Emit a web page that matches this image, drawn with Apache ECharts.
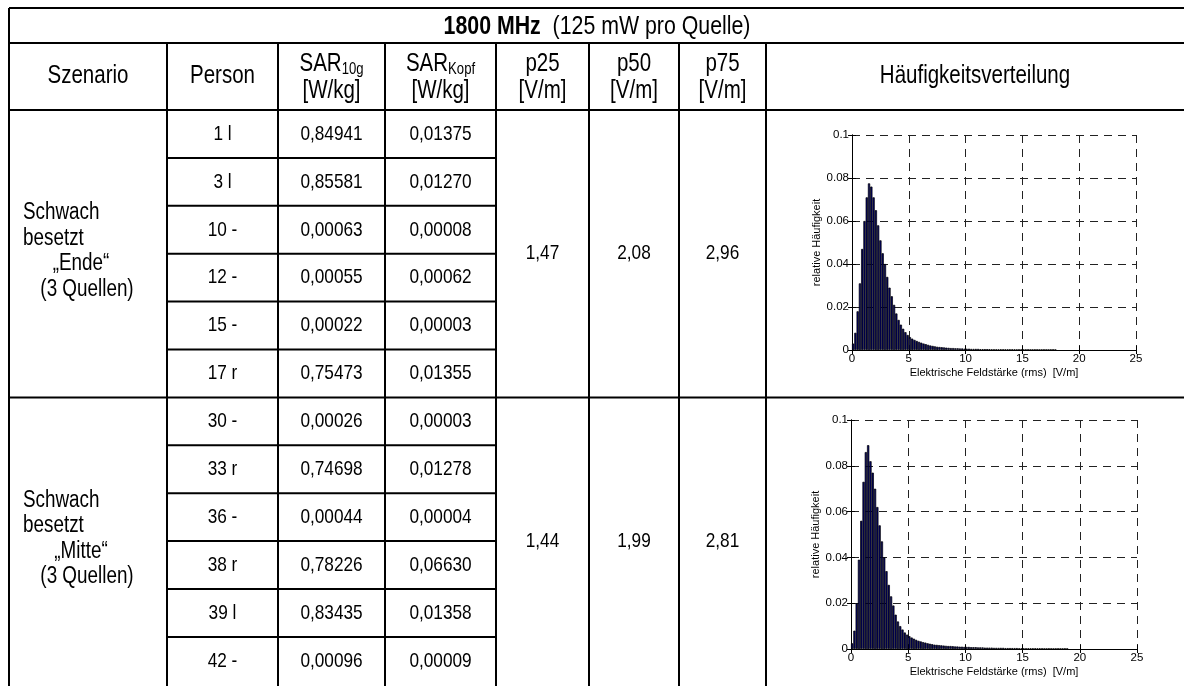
<!DOCTYPE html>
<html>
<head>
<meta charset="utf-8">
<script src="https://cdn.jsdelivr.net/npm/echarts@6/dist/echarts.min.js"></script>
<style>
  html, body { margin: 0; padding: 0; background: #fff; }
  #chart { width: 1184px; height: 686px; }
</style>
</head>
<body>
<div id="chart"></div>
<script>
// table contents
const headers = ['Szenario', 'Person', 'SAR10g', 'SARKopf', 'p25', 'p50', 'p75', 'Häufigkeitsverteilung'];
const scenarios = [
  ['Schwach', 'besetzt', '„Ende“', '(3 Quellen)'],
  ['Schwach', 'besetzt', '„Mitte“', '(3 Quellen)']
];
const persons1 = ['1 l', '3 l', '10 -', '12 -', '15 -', '17 r'];
const sar10g1 = ['0,84941', '0,85581', '0,00063', '0,00055', '0,00022', '0,75473'];
const sarKopf1 = ['0,01375', '0,01270', '0,00008', '0,00062', '0,00003', '0,01355'];
const pct1 = ['1,47', '2,08', '2,96'];
const persons2 = ['30 -', '33 r', '36 -', '38 r', '39 l', '42 -'];
const sar10g2 = ['0,00026', '0,74698', '0,00044', '0,78226', '0,83435', '0,00096'];
const sarKopf2 = ['0,00003', '0,01278', '0,00004', '0,06630', '0,01358', '0,00009'];
const pct2 = ['1,44', '1,99', '2,81'];

// histogram (bin width 0.2 V/m)
const binWidth = 0.2;
const histEnde = [
  0.003, 0.008, 0.018, 0.031, 0.047, 0.060, 0.071, 0.0775, 0.076, 0.071,
  0.065, 0.058, 0.051, 0.045, 0.040, 0.034, 0.029, 0.025, 0.021, 0.017,
  0.014, 0.0118, 0.0099, 0.0083, 0.0070, 0.0060, 0.0053, 0.0047, 0.0042, 0.0038,
  0.0034, 0.0030, 0.0027, 0.0024, 0.0021, 0.0019, 0.0017, 0.0015, 0.0014, 0.0013,
  0.0012, 0.0011, 0.0010, 0.0009, 0.0009, 0.0008, 0.0008, 0.0007, 0.0007, 0.0006,
  0.0006, 0.0006, 0.0005, 0.0005, 0.0005, 0.0005, 0.0004, 0.0004, 0.0004, 0.0004,
  0.0004, 0.0003, 0.0003, 0.0003, 0.0003, 0.0003, 0.0003, 0.0003, 0.0003, 0.0003,
  0.0003, 0.0003, 0.0002, 0.0002, 0.0002, 0.0002, 0.0002, 0.0002, 0.0002, 0.0002,
  0.0002, 0.0002, 0.0002, 0.0002, 0.0002, 0.0002, 0.0002, 0.0002, 0.0002, 0.0002
];
const histMitte = [
  0.0025, 0.008, 0.020, 0.039, 0.056, 0.073, 0.086, 0.089, 0.082, 0.077,
  0.070, 0.062, 0.054, 0.047, 0.040, 0.034, 0.028, 0.023, 0.019, 0.015,
  0.012, 0.010, 0.0085, 0.0072, 0.0063, 0.0056, 0.0050, 0.0045, 0.0040, 0.0036,
  0.0033, 0.0030, 0.0028, 0.0025, 0.0023, 0.0021, 0.0019, 0.0018, 0.0017, 0.0016,
  0.0015, 0.0014, 0.0013, 0.0013, 0.0012, 0.0011, 0.0011, 0.0010, 0.0010, 0.0009,
  0.0009, 0.0009, 0.0008, 0.0008, 0.0008, 0.0007, 0.0007, 0.0007, 0.0006, 0.0006,
  0.0006, 0.0006, 0.0005, 0.0005, 0.0005, 0.0005, 0.0005, 0.0004, 0.0004, 0.0004,
  0.0004, 0.0004, 0.0004, 0.0003, 0.0003, 0.0003, 0.0003, 0.0003, 0.0003, 0.0003,
  0.0003, 0.0003, 0.0003, 0.0003, 0.0002, 0.0002, 0.0002, 0.0002, 0.0002, 0.0002,
  0.0002, 0.0002, 0.0002, 0.0002, 0.0002
];
const xTicks = [0, 5, 10, 15, 20, 25];
const yTicks = [0, 0.02, 0.04, 0.06, 0.08, 0.1];

// layout
const colX = [9, 167, 278, 385, 496, 589, 679, 766, 1184];
const yTop = 8, yTitle = 43, yHead = 110, rowH = 47.9;
const sans = "'Liberation Sans', Arial, sans-serif";
const NARROW = 0.82; // squeeze Liberation Sans towards Arial Narrow

const chart = echarts.init(document.getElementById('chart'));
const g = [];
const line = (x1, y1, x2, y2) => g.push({
  type: 'line', shape: { x1, y1, x2, y2 }, style: { stroke: '#000', lineWidth: 2 }, silent: true
});
const text = (x, y, t, size, align, extra) => g.push({
  type: 'text', x, y, scaleX: NARROW, silent: true,
  style: Object.assign({
    text: t, fontFamily: 'Liberation Sans', fontSize: size, fill: '#000',
    align: align || 'center', verticalAlign: 'middle',
    textAlign: align || 'center', textVerticalAlign: 'middle'
  }, extra || {})
});
const mid = (i) => (colX[i] + colX[i + 1]) / 2;

// frame
line(colX[0], yTop, 1184, yTop);
line(colX[0], yTitle, 1184, yTitle);
line(colX[0], yHead, 1184, yHead);
line(colX[0], yTop, colX[0], 686);
for (let i = 1; i < 8; i++) line(colX[i], yTitle, colX[i], 686);

// title
text(597, (yTop + yTitle) / 2 + 1, '{b|1800 MHz}{n|  (125 mW pro Quelle)}', 26, 'center', {
  rich: {
    b: { fontFamily: 'Liberation Sans', fontSize: 26, fontWeight: 'bold', fill: '#000' },
    n: { fontFamily: 'Liberation Sans', fontSize: 26, fill: '#000' }
  }
});

// header
const hy = (yTitle + yHead) / 2;
const hs = 25;
text(mid(0), hy, headers[0], hs);
text(mid(1), hy, headers[1], hs);
[['SAR', '10g'], ['SAR', 'Kopf']].forEach((p, k) => {
  text(mid(2 + k), hy - 12, '{m|' + p[0] + '}{s|' + p[1] + '}', hs, 'center', {
    rich: {
      m: { fontFamily: 'Liberation Sans', fontSize: hs, lineHeight: 26, verticalAlign: 'middle' },
      s: { fontFamily: 'Liberation Sans', fontSize: 16, lineHeight: 26, verticalAlign: 'bottom' }
    }
  });
  text(mid(2 + k), hy + 15, '[W/kg]', hs);
});
for (let k = 0; k < 3; k++) {
  text(mid(4 + k), hy - 12, headers[4 + k], hs);
  text(mid(4 + k), hy + 15, '[V/m]', hs);
}
text(mid(7), hy, headers[7], hs);

// body
const groups = [
  [persons1, sar10g1, sarKopf1, pct1, scenarios[0]],
  [persons2, sar10g2, sarKopf2, pct2, scenarios[1]]
];
const ds = 21;
groups.forEach((grp, gi) => {
  const y0 = yHead + gi * 6 * rowH;
  const y1 = y0 + 6 * rowH;
  if (gi > 0) line(colX[0], y0, 1184, y0);
  for (let r = 0; r < 6; r++) {
    const yc = y0 + (r + 0.5) * rowH;
    if (r > 0) line(colX[1], y0 + r * rowH, colX[4], y0 + r * rowH);
    text(mid(1), yc, grp[0][r], ds);
    text(mid(2), yc, grp[1][r], ds);
    text(mid(3), yc, grp[2][r], ds);
  }
  const ym = (y0 + y1) / 2;
  for (let k = 0; k < 3; k++) text(mid(4 + k), ym, grp[3][k], ds);
  const sc = grp[4];
  text(23, y0 + 103, sc[0], 23, 'left');
  text(23, y0 + 128.5, sc[1], 23, 'left');
  text(81, y0 + 154, sc[2], 23);
  text(87, y0 + 179.5, sc[3], 23);
});

// histograms
const grids = [
  { left: 852, top: 135, width: 284, height: 215 },
  { left: 851, top: 420, width: 286, height: 229 }
];
const toPairs = (arr) => arr.map((v, i) => [binWidth * (i + 0.5), v]);
const axisFont = { fontFamily: sans, fontSize: 11.5, color: '#000' };

const xAxis = [], yAxis = [], series = [];
[histEnde, histMitte].forEach((h, i) => {
  xAxis.push({
    gridIndex: i, type: 'value', min: 0, max: 25, interval: 5,
    name: 'Elektrische Feldstärke (rms)  [V/m]', nameLocation: 'middle', nameGap: 17,
    nameTextStyle: { fontFamily: sans, fontSize: 11, color: '#000' },
    axisLine: { show: true, lineStyle: { color: '#000', width: 1 } },
    axisTick: { show: true, inside: true, length: 4, lineStyle: { color: '#000' } },
    axisLabel: Object.assign({ margin: 3, formatter: (v) => xTicks.includes(v) ? String(v) : '' }, axisFont),
    splitLine: { show: true, lineStyle: { color: '#222', type: [8, 6], width: 1 } }
  });
  xAxis.push({
    gridIndex: i, type: 'value', min: 0, max: 25, interval: 5, position: 'top',
    axisLine: { show: true, lineStyle: { color: '#000', width: 1 } },
    axisTick: { show: true, inside: true, length: 4, lineStyle: { color: '#000' } },
    axisLabel: { show: false }, splitLine: { show: false }
  });
  yAxis.push({
    gridIndex: i, type: 'value', min: 0, max: 0.1, interval: 0.02,
    name: 'relative Häufigkeit', nameLocation: 'middle', nameGap: 25, nameRotate: 90,
    nameTextStyle: { fontFamily: sans, fontSize: 11, color: '#000' },
    axisLine: { show: true, lineStyle: { color: '#000', width: 1 } },
    axisTick: { show: true, inside: true, length: 4, lineStyle: { color: '#000' } },
    axisLabel: Object.assign({ margin: 3, formatter: (v) => {
      const t = yTicks.find((k) => Math.abs(k - v) < 1e-9);
      return t === undefined ? '' : String(+t.toFixed(2));
    } }, axisFont),
    splitLine: { show: true, lineStyle: { color: '#222', type: [8, 6], width: 1 } }
  });
  yAxis.push({
    gridIndex: i, type: 'value', min: 0, max: 0.1, interval: 0.02, position: 'right',
    axisLine: { show: true, lineStyle: { color: '#000', width: 1 } },
    axisTick: { show: true, inside: true, length: 4, lineStyle: { color: '#000' } },
    axisLabel: { show: false }, splitLine: { show: false }
  });
  series.push({
    type: 'bar', xAxisIndex: i * 2, yAxisIndex: i * 2,
    data: toPairs(h), barWidth: '100%', silent: true,
    itemStyle: { color: '#000066', borderColor: '#000', borderWidth: 0.7 }
  });
});

chart.setOption({
  animation: false,
  backgroundColor: '#fff',
  grid: grids.map((r) => Object.assign({ containLabel: false }, r)),
  xAxis, yAxis, series,
  graphic: { elements: g }
});
</script>
</body>
</html>
